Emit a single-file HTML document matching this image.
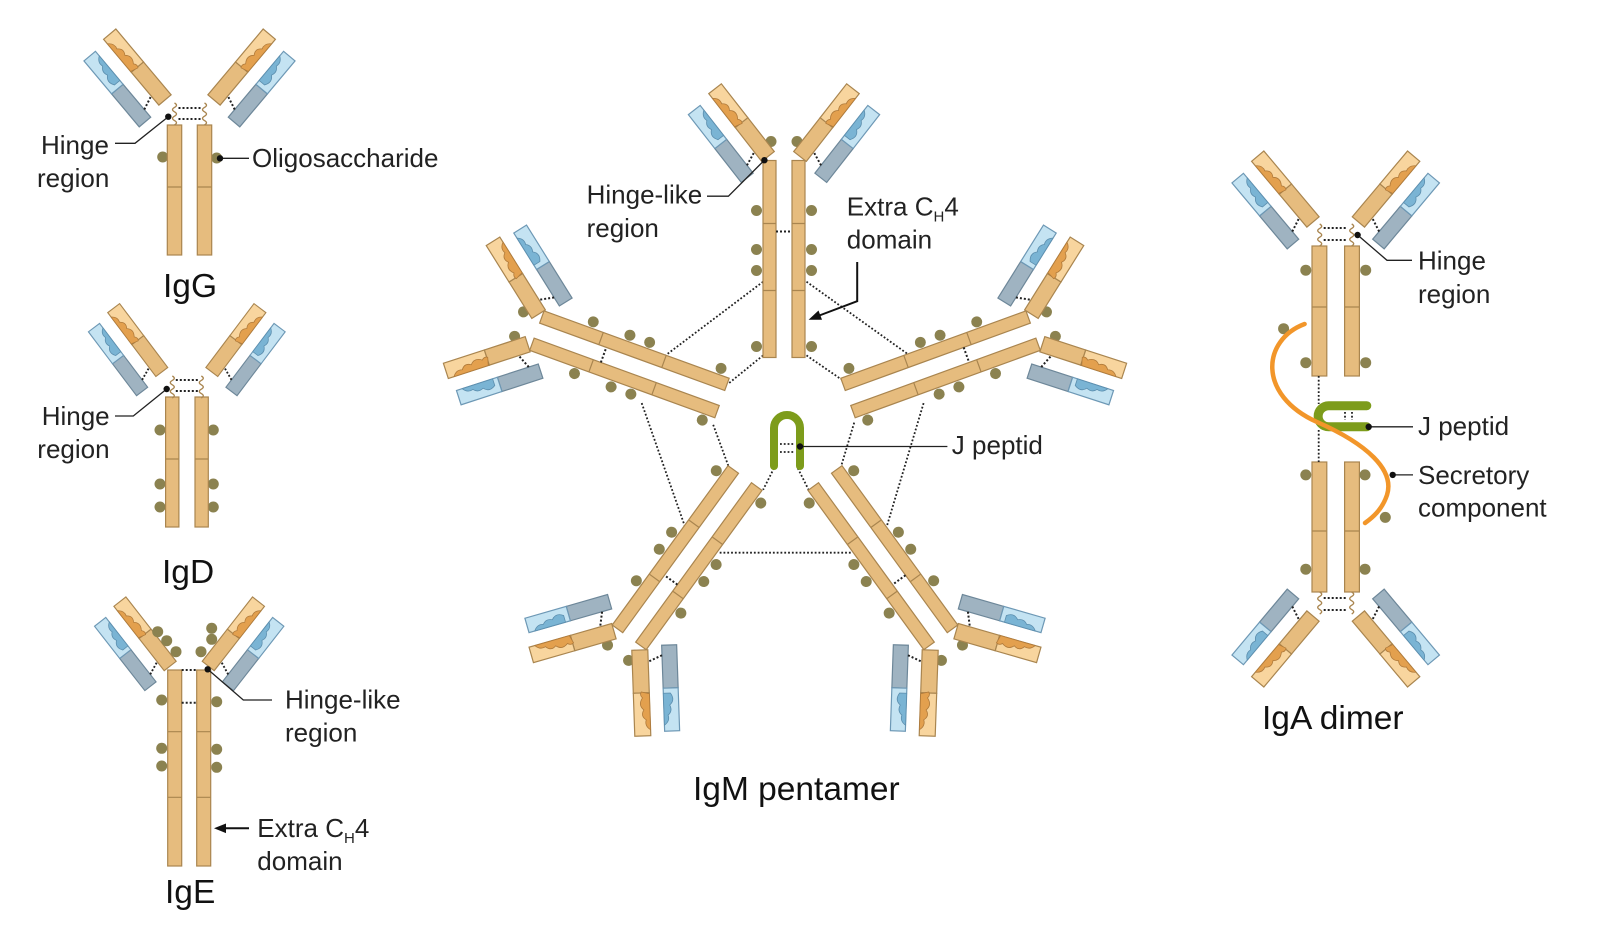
<!DOCTYPE html>
<html><head><meta charset="utf-8"><style>
html,body{margin:0;padding:0;background:#fff;}
svg{display:block;}
text{font-family:"Liberation Sans",sans-serif;fill:#222;}
.l{font-size:26px;}
.t{font-size:33.5px;fill:#111;}
</style></head><body>
<svg width="1600" height="943" viewBox="0 0 1600 943" xmlns="http://www.w3.org/2000/svg">
<defs>
<g id="fab">
 <rect x="-37" y="-39" width="15" height="43" fill="#9fb3c1" stroke="#6d8799" stroke-width="1.2"/>
 <rect x="-37" y="-82" width="15" height="43" fill="#c4e3f2" stroke="#6d98b5" stroke-width="1.2"/>
 <path d="M-22,-76 q-6,4 -4,10 q-5,4 -2,10 q-6,5 -1,12 L-22,-44 Z" fill="#7ab4d4" stroke="#5b8eae" stroke-width=".8"/>
 <rect x="-8" y="-43" width="16" height="43" fill="#e6bc7e" stroke="#a9854f" stroke-width="1.2"/>
 <rect x="-8" y="-86" width="16" height="43" fill="#f8d59e" stroke="#a9854f" stroke-width="1.2"/>
 <path d="M-8,-80 q6,4 4,10 q6,4 2,10 q6,5 1,12 q3,3 1,6 L-8,-44 Z" fill="#e3a04e" stroke="#b07a3a" stroke-width=".8"/>
 <line x1="-22" y1="-6" x2="-8" y2="-12" stroke="#222" stroke-width="2" stroke-dasharray="2 2"/>
</g>
<path id="hinge" d="M0,0 q4,2.2 0,4.4 q-4,2.2 0,4.4 q4,2.2 0,4.4 q-4,2.2 0,4.4 q4,2.2 0,4.4" fill="none" stroke="#a9854f" stroke-width="1.3"/>
<circle id="gl" r="5.5" fill="#8b8250"/>
<g id="mono">
 <use href="#gl" x="-27.5" y="-147"/><use href="#gl" x="27.5" y="-147"/>
 <use href="#gl" x="-27.5" y="-108"/><use href="#gl" x="27.5" y="-108"/>
 <use href="#gl" x="-27.5" y="-87"/><use href="#gl" x="27.5" y="-87"/>
 <use href="#gl" x="-27.5" y="-11"/><use href="#gl" x="27.5" y="-11"/>
 <use href="#gl" x="-13" y="-216"/><use href="#gl" x="13" y="-216"/>
 <rect x="-21" y="-197" width="13" height="197" fill="#e6bc7e" stroke="#a9854f" stroke-width="1.2"/>
 <rect x="8" y="-197" width="13" height="197" fill="#e6bc7e" stroke="#a9854f" stroke-width="1.2"/>
 <path d="M-21,-67h13M-21,-134h13M8,-67h13M8,-134h13" stroke="#a9854f" stroke-width="1.2"/>
 <line x1="-8" y1="-126" x2="8" y2="-126" stroke="#222" stroke-width="2" stroke-dasharray="2 2"/>
 <use href="#fab" transform="translate(-16,-201) rotate(-38)"/>
 <use href="#fab" transform="translate(16,-201) scale(-1,1) rotate(-38)"/>
</g>
<g id="igaTop">
 <rect x="-23.7" y="246" width="14.8" height="130" fill="#e6bc7e" stroke="#a9854f" stroke-width="1.2"/>
 <rect x="8.9" y="246" width="14.8" height="130" fill="#e6bc7e" stroke="#a9854f" stroke-width="1.2"/>
 <path d="M-23.7,307h14.8M8.9,307h14.8" stroke="#a9854f" stroke-width="1.2"/>
 <use href="#hinge" x="-16" y="224"/><use href="#hinge" x="16" y="224"/>
 <path d="M-12,228h24M-12,240h24" stroke="#222" stroke-width="2" stroke-dasharray="2 2"/>
 <use href="#fab" transform="translate(-22.7,222) rotate(-40)"/>
 <use href="#fab" transform="translate(22.7,222) scale(-1,1) rotate(-40)"/>
</g>
</defs>

<!-- IgG -->
<g transform="translate(189.5,0)">
 <use href="#gl" x="-26.8" y="157"/><use href="#gl" x="27.2" y="158"/>
 <rect x="-22.2" y="125" width="14.4" height="130" fill="#e6bc7e" stroke="#a9854f" stroke-width="1.2"/>
 <rect x="7.8" y="125" width="14.4" height="130" fill="#e6bc7e" stroke="#a9854f" stroke-width="1.2"/>
 <path d="M-22.2,187h14.4M7.8,187h14.4" stroke="#a9854f" stroke-width="1.2"/>
 <use href="#hinge" x="-15" y="103"/><use href="#hinge" x="15" y="103"/>
 <path d="M-11,108h22M-11,119h22" stroke="#222" stroke-width="2" stroke-dasharray="2 2"/>
 <use href="#fab" transform="translate(-24.5,100) rotate(-40)"/>
 <use href="#fab" transform="translate(24.5,100) scale(-1,1) rotate(-40)"/>
</g>
<path d="M115,143.3H135L168.3,116.7" fill="none" stroke="#222" stroke-width="1.3"/>
<circle cx="168.3" cy="116.7" r="3.2" fill="#111"/>
<path d="M220,158.3H249" stroke="#222" stroke-width="1.3"/>
<circle cx="220" cy="158.3" r="3.2" fill="#111"/>
<text class="l" x="41" y="154">Hinge</text>
<text class="l" x="37" y="187">region</text>
<text class="l" x="252" y="167">Oligosaccharide</text>
<text class="t" x="163" y="297">IgG</text>

<!-- IgD -->
<g transform="translate(186.8,0)">
 <use href="#gl" x="-26.8" y="430"/><use href="#gl" x="26.5" y="430"/>
 <use href="#gl" x="-26.8" y="484"/><use href="#gl" x="26.5" y="484"/>
 <use href="#gl" x="-26.8" y="507"/><use href="#gl" x="26.5" y="507"/>
 <rect x="-21.2" y="397" width="13.3" height="130" fill="#e6bc7e" stroke="#a9854f" stroke-width="1.2"/>
 <rect x="8.2" y="397" width="13.3" height="130" fill="#e6bc7e" stroke="#a9854f" stroke-width="1.2"/>
 <path d="M-21.2,459h13.3M8.2,459h13.3" stroke="#a9854f" stroke-width="1.2"/>
 <use href="#hinge" x="-14.5" y="376"/><use href="#hinge" x="14.5" y="376"/>
 <path d="M-11,380h22M-11,391h22" stroke="#222" stroke-width="2" stroke-dasharray="2 2"/>
 <use href="#fab" transform="translate(-25,372) rotate(-37) scale(0.93)"/>
 <use href="#fab" transform="translate(25,372) scale(-1,1) rotate(-37) scale(0.93)"/>
</g>
<path d="M115,416H133.3L166.7,389" fill="none" stroke="#222" stroke-width="1.3"/>
<circle cx="166.7" cy="389" r="3.2" fill="#111"/>
<text class="l" x="41.7" y="425">Hinge</text>
<text class="l" x="37.3" y="458">region</text>
<text class="t" x="162" y="583">IgD</text>

<!-- IgE -->
<g transform="translate(189.2,0)">
 <use href="#gl" x="-27.5" y="700"/><use href="#gl" x="27.5" y="701.7"/>
 <use href="#gl" x="-27.5" y="748.3"/><use href="#gl" x="27.5" y="749.3"/>
 <use href="#gl" x="-27.5" y="766"/><use href="#gl" x="27.5" y="767.3"/>
 <rect x="-21.5" y="670" width="14" height="196" fill="#e6bc7e" stroke="#a9854f" stroke-width="1.2"/>
 <rect x="7.5" y="670" width="14" height="196" fill="#e6bc7e" stroke="#a9854f" stroke-width="1.2"/>
 <path d="M-21.5,731.7h14M7.5,731.7h14M-21.5,797.3h14M7.5,797.3h14" stroke="#a9854f" stroke-width="1.2"/>
 <path d="M-7.5,670h15M-7.5,702.7h15" stroke="#222" stroke-width="2" stroke-dasharray="2 2"/>
 <use href="#fab" transform="translate(-19,666) rotate(-38) scale(0.95)"/>
 <use href="#fab" transform="translate(19,666) scale(-1,1) rotate(-38) scale(0.95)"/>
 <use href="#gl" x="-31.5" y="631.7"/><use href="#gl" x="-22.5" y="640.7"/><use href="#gl" x="-13.2" y="651.7"/>
 <use href="#gl" x="22.5" y="628.3"/><use href="#gl" x="22.5" y="639.3"/><use href="#gl" x="11.8" y="651.7"/>
</g>
<path d="M272,700H243.3L207.7,669.3" fill="none" stroke="#222" stroke-width="1.3"/>
<circle cx="207.7" cy="669.3" r="3.2" fill="#111"/>
<line x1="249" y1="828.3" x2="224" y2="828.3" stroke="#111" stroke-width="2"/>
<path d="M214,828.3L226,823.5L226,833.1Z" fill="#111"/>
<text class="l" x="285" y="708.3">Hinge-like</text>
<text class="l" x="285" y="741.7">region</text>
<text class="l" x="257.3" y="837">Extra C<tspan font-size="15" dy="6">H</tspan><tspan dy="-6">4</tspan></text>
<text class="l" x="257.3" y="870">domain</text>
<text class="t" x="165" y="903">IgE</text>

<!-- IgM pentamer -->
<g stroke="#222" stroke-width="1.8" stroke-dasharray="1.8 2" fill="none">
 <path d="M763.1,281.7L656.9,361.9M763.1,355.4L728.4,383.6M806.5,281.7L912.7,357.6M806.5,355.4L841.2,379.3M641.7,403.1L685,526.7M713.2,424.8L728.4,466M923.6,403.1L886.7,526.7M854.2,422.6L841.2,466M719.7,552.7L852,552.7M774,468.2L763.1,489.8M797.8,468.2L808.6,489.8M780,444h14M780,452h14"/>
</g>
<use href="#mono" transform="translate(784,357.5)"/>
<use href="#mono" transform="translate(722,398) rotate(-70)"/>
<use href="#mono" transform="translate(848,398) rotate(70)"/>
<use href="#mono" transform="translate(745,478) rotate(-144)"/>
<use href="#mono" transform="translate(825,478) rotate(144)"/>
<path d="M774,466L774,428A13,13 0 0 1 800,428L800,466" fill="none" stroke="#7d9c1b" stroke-width="8" stroke-linecap="round"/>
<path d="M800,446.5H947.4" stroke="#222" stroke-width="1.3"/>
<circle cx="800" cy="446.5" r="3.2" fill="#111"/>
<path d="M707,196.2H728.4L764.4,160.2" fill="none" stroke="#222" stroke-width="1.3"/>
<circle cx="764.4" cy="160.2" r="3.2" fill="#111"/>
<path d="M857.2,262V301.2L818,316" fill="none" stroke="#111" stroke-width="2"/>
<path d="M808.6,319.8L818.5,310.5L822,319.8Z" fill="#111"/>
<text class="l" x="586.6" y="203.6">Hinge-like</text>
<text class="l" x="586.6" y="237">region</text>
<text class="l" x="846.8" y="215.7">Extra C<tspan font-size="15" dy="6">H</tspan><tspan dy="-6">4</tspan></text>
<text class="l" x="846.8" y="248.3">domain</text>
<text class="l" x="951.8" y="453.8">J peptid</text>
<text class="t" x="693" y="800">IgM pentamer</text>

<!-- IgA dimer -->
<g transform="translate(-13,0)">
<g transform="translate(1348.7,0)">
 <use href="#igaTop"/>
 <use href="#igaTop" transform="translate(0,838) scale(1,-1)"/>
</g>
<g fill="#8b8250">
 <circle cx="1318.8" cy="270.2" r="5.5"/><circle cx="1378.7" cy="270.2" r="5.5"/>
 <circle cx="1318.8" cy="362.7" r="5.5"/><circle cx="1378.7" cy="362.7" r="5.5"/>
 <circle cx="1296.6" cy="328.7" r="5.5"/>
 <circle cx="1318.8" cy="474.9" r="5.5"/><circle cx="1378" cy="474.9" r="5.5"/>
 <circle cx="1318.8" cy="569.2" r="5.5"/><circle cx="1378" cy="569.2" r="5.5"/>
 <circle cx="1398.3" cy="517.4" r="5.5"/>
</g>
<path d="M1331.7,376V404M1331.7,430V462M1358,412V420M1365,412V420" stroke="#222" stroke-width="1.8" stroke-dasharray="1.8 2"/>
<path d="M1379.8,405.7H1341.7A10.5,10.5 0 0 0 1341.7,426.8H1379.8" fill="none" stroke="#7d9c1b" stroke-width="9" stroke-linecap="round"/>
<path d="M1317.6,324C1275,340 1270,395 1330,422C1380,444 1408,470 1400,495C1395,510 1385,518 1378,523" fill="none" stroke="#f2962a" stroke-width="4.5" stroke-linecap="round"/>
<path d="M1370.6,235L1400,260.3H1425" fill="none" stroke="#222" stroke-width="1.3"/>
<circle cx="1370.6" cy="235" r="3.2" fill="#111"/>
<path d="M1381.7,426.8H1426" stroke="#222" stroke-width="1.3"/>
<circle cx="1381.7" cy="426.8" r="3.2" fill="#111"/>
<path d="M1405.7,474.9H1426" stroke="#222" stroke-width="1.3"/>
<circle cx="1405.7" cy="474.9" r="3.2" fill="#111"/>
<text class="l" x="1431" y="269.5">Hinge</text>
<text class="l" x="1431" y="302.8">region</text>
<text class="l" x="1431" y="434.9">J peptid</text>
<text class="l" x="1431" y="484">Secretory</text>
<text class="l" x="1431" y="516.7">component</text>
<text class="t" x="1275" y="729">IgA dimer</text>
</g>
</svg>
</body></html>
